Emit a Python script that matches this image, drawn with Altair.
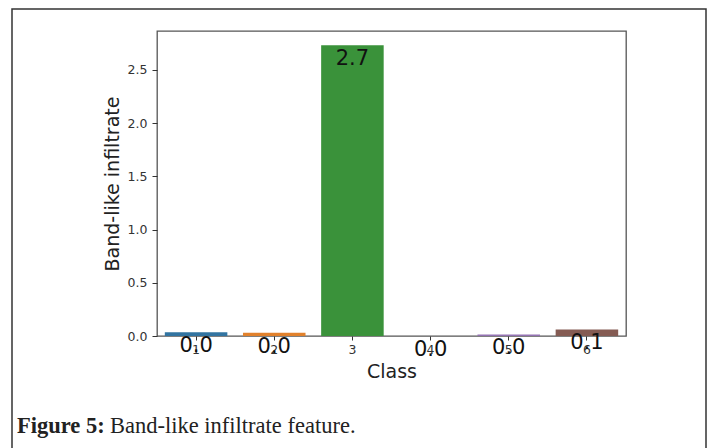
import altair as alt
import pandas as pd

# ---- data ----
classes = ["1", "2", "3", "4", "5", "6"]
values = [0.035, 0.03, 2.73, 0.0, 0.015, 0.062]
colors = ["#3274a1", "#e1812c", "#3a923a", "#c03d3e", "#9372b2", "#845b53"]
y_ticks = [0.0, 0.5, 1.0, 1.5, 2.0, 2.5]
y_max = 2.865
caption_bold = "Figure 5:"
caption_text = "Band-like infiltrate feature."

df = pd.DataFrame({"Class": classes, "Value": values})
one = pd.DataFrame({"k": [0]})

FONT = "DejaVu Sans"
SERIF = "Liberation Serif"

x_enc = alt.X(
    "Class:O",
    sort=classes,
    scale=alt.Scale(paddingInner=0.2, paddingOuter=0.1),
    axis=alt.Axis(
        title="Class", labelAngle=0, tickSize=4, labelPadding=3,
        labelFontSize=12.5, labelColor="#333", tickColor="#333",
        titleFontSize=19, titleFontWeight="normal", titleColor="#222",
        titlePadding=7, domain=False, labelFont=FONT, titleFont=FONT,
    ),
)
y_enc = alt.Y(
    "Value:Q",
    scale=alt.Scale(domain=[0, y_max], nice=False, zero=True),
    axis=alt.Axis(
        title="Band-like infiltrate", values=y_ticks, format=".1f",
        tickSize=5, labelPadding=5, labelFontSize=12.5, labelColor="#333",
        tickColor="#333", grid=False, domain=False,
        titleFontSize=19, titleFontWeight="normal", titleColor="#222",
        titlePadding=5, labelFont=FONT, titleFont=FONT,
    ),
)

bars = alt.Chart(df).mark_bar().encode(
    x=x_enc,
    y=y_enc,
    color=alt.Color("Class:N", scale=alt.Scale(domain=classes, range=colors), legend=None),
)

labels = alt.Chart(df).mark_text(
    baseline="top", dy=3, fontSize=21, font=FONT, color="#111"
).encode(
    x=alt.X("Class:O", sort=classes),
    y=alt.Y("Value:Q"),
    text=alt.Text("Value:Q", format=".1f"),
)

frame = alt.Chart(one).mark_rect(
    fillOpacity=0, stroke="#333", strokeWidth=1.5
).encode(
    x=alt.value(-145), x2=alt.value(549), y=alt.value(-22), y2=alt.value(500)
)

cap1 = alt.Chart(one).mark_text(
    text=caption_bold, align="left", baseline="alphabetic",
    font=SERIF, fontSize=22.5, fontWeight="bold", color="#222"
).encode(x=alt.value(-140), y=alt.value(402))

cap2 = alt.Chart(one).mark_text(
    text=caption_text, align="left", baseline="alphabetic",
    font=SERIF, fontSize=22.5, color="#222"
).encode(x=alt.value(-47), y=alt.value(402))

chart = alt.layer(frame, bars, labels, cap1, cap2).properties(
    width=469,
    height=305,
    padding={"left": 149, "top": 23, "right": 81, "bottom": 112},
    autosize=alt.AutoSizeParams(type="none"),
    background="white",
).configure_view(stroke="#555", strokeWidth=1.3)

chart.save("out.html", embed_options={"renderer": "svg", "actions": False})
